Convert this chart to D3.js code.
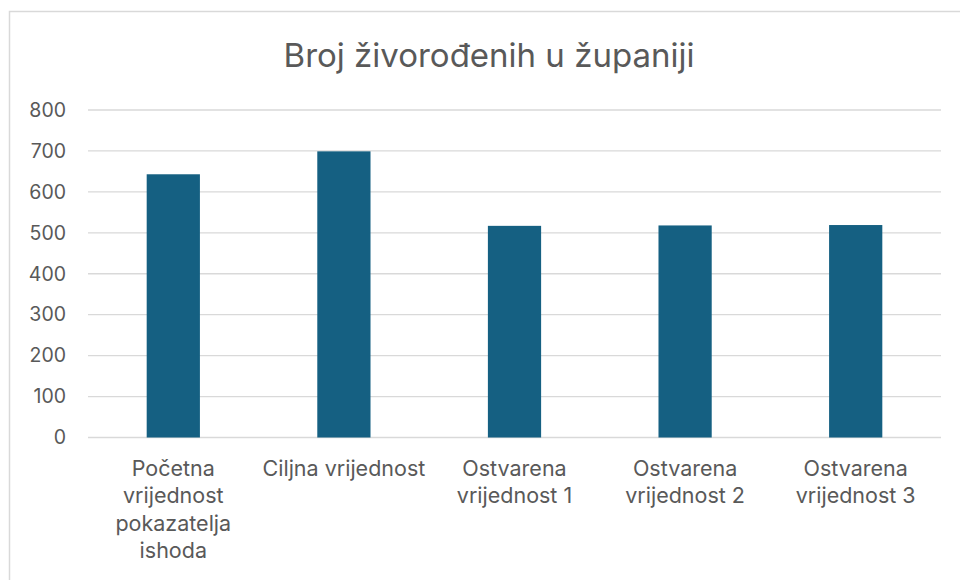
<!DOCTYPE html>
<html>
<head>
<meta charset="utf-8">
<script src="https://cdn.jsdelivr.net/npm/d3@7"></script>
<style>
  html, body { margin: 0; padding: 0; background: #fff; }
  svg { display: block; }
  text { font-family: Inter, "Noto Sans", sans-serif; fill: #595959; }
</style>
</head>
<body>
<svg id="chart" width="960" height="580"></svg>
<script>
const title = "Broj živorođenih u županiji";
const categories = [
  "Početna\nvrijednost\npokazatelja\nishoda",
  "Ciljna vrijednost",
  "Ostvarena\nvrijednost 1",
  "Ostvarena\nvrijednost 2",
  "Ostvarena\nvrijednost 3"
];
const values = [643, 699, 517, 518, 519];
const yTicks = [0, 100, 200, 300, 400, 500, 600, 700, 800];

const svg = d3.select("#chart");
const W = 960, H = 580;
const plot = { left: 88, right: 941, top: 110, bottom: 437.5 };

// frame
svg.append("path")
  .attr("d", `M9.5,${H} V11.5 H${W}`)
  .attr("fill", "none")
  .attr("stroke", "#d9d9d9")
  .attr("stroke-width", 1.5);

const x = d3.scaleBand().domain(categories).range([plot.left, plot.right]).padding(0);
const y = d3.scaleLinear().domain([0, 800]).range([plot.bottom, plot.top]);

// gridlines
svg.append("g").selectAll("line").data(yTicks).join("line")
  .attr("x1", plot.left).attr("x2", plot.right)
  .attr("y1", d => y(d)).attr("y2", d => y(d))
  .attr("stroke", "#d9d9d9").attr("stroke-width", 1.3);

// y axis labels
const yAxis = d3.axisLeft(y).tickValues(yTicks).tickSize(0).tickPadding(0);
const gy = svg.append("g").attr("transform", `translate(66,0)`).call(yAxis);
gy.select(".domain").remove();
gy.selectAll("text").attr("font-size", 19.5).attr("fill", "#595959")
  .style("font-family", "Inter, 'Noto Sans', sans-serif");

// bars
const barW = x.bandwidth() * 0.312;
svg.append("g").selectAll("rect").data(values).join("rect")
  .attr("x", (d, i) => x(categories[i]) + (x.bandwidth() - barW) / 2)
  .attr("width", barW)
  .attr("y", d => y(d))
  .attr("height", d => y(0) - y(d))
  .attr("fill", "#156082");

// x labels
const gx = svg.append("g");
categories.forEach(c => {
  const t = gx.append("text")
    .attr("x", x(c) + x.bandwidth() / 2)
    .attr("y", 476)
    .attr("text-anchor", "middle")
    .attr("font-size", 21.5);
  c.split("\n").forEach((line, j) => {
    t.append("tspan").attr("x", x(c) + x.bandwidth() / 2)
      .attr("y", 476 + j * 27.3).text(line);
  });
});

// title
svg.append("text")
  .attr("x", 489).attr("y", 67)
  .attr("text-anchor", "middle")
  .attr("font-size", 33)
  .text(title);
</script>
</body>
</html>
